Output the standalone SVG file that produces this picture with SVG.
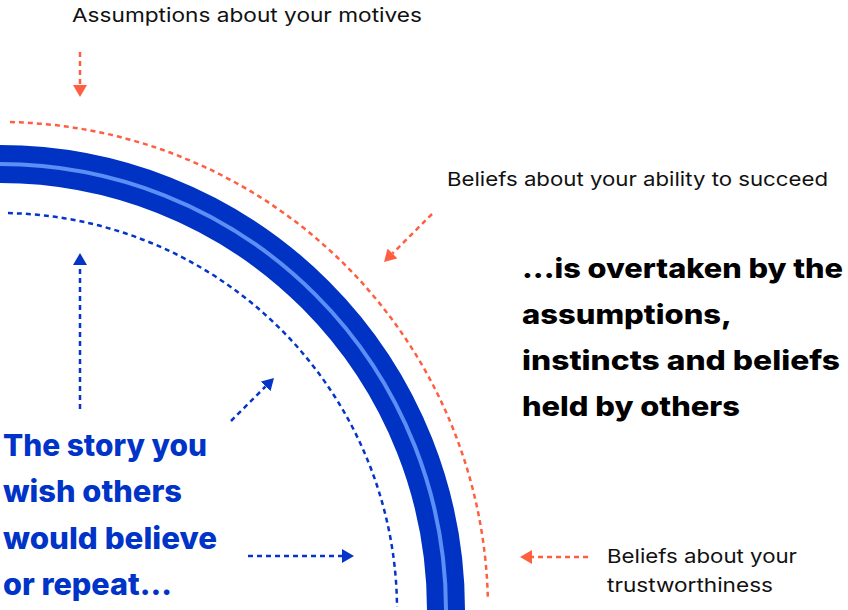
<svg xmlns="http://www.w3.org/2000/svg" width="848" height="610" viewBox="0 0 848 610">
  <style>
    .t { font-family: Inter, "Open Sans", "Liberation Sans", sans-serif; fill: #111111; }
    .sm { font-size: 19px; font-weight: 400; }
    .bk { font-size: 27px; font-weight: 800; fill: #000000; }
    .bl { font-size: 30px; font-weight: 800; fill: #0033c7; }
    .od { fill: none; stroke: #ff5f40; stroke-width: 2.5; stroke-dasharray: 5 4; }
    .bd { fill: none; stroke: #0535c8; stroke-width: 2.5; stroke-dasharray: 5 4; }
  </style>
  <defs>
    <marker id="ho" markerUnits="userSpaceOnUse" markerWidth="12" markerHeight="14" refX="0" refY="7" orient="auto" viewBox="0 0 12 14">
      <path d="M0,0 L12,7 L0,14 z" fill="#ff5f40"/>
    </marker>
    <marker id="hb" markerUnits="userSpaceOnUse" markerWidth="12" markerHeight="14" refX="0" refY="7" orient="auto" viewBox="0 0 12 14">
      <path d="M0,0 L12,7 L0,14 z" fill="#0535c8"/>
    </marker>
  </defs>

  <g id="arcs">
    <circle cx="0" cy="610" r="446" fill="none" stroke="#0033c4" stroke-width="38"/>
    <circle cx="0" cy="610" r="446" fill="none" stroke="#5b8ff5" stroke-width="4"/>
    <path class="od" d="M 10 122.1 A 488 488 0 0 1 487.8 597"/>
    <path class="bd" d="M 8 213.1 A 397 397 0 0 1 397 607"/>
  </g>

  <g id="connectors">
    <line class="od" x1="80" y1="52" x2="80" y2="85" marker-end="url(#ho)"/>
    <line class="od" x1="432" y1="214" x2="392.5" y2="253.5" marker-end="url(#ho)"/>
    <line class="bd" x1="231" y1="421" x2="265.5" y2="386.5" marker-end="url(#hb)"/>
    <line class="bd" x1="248" y1="556" x2="342" y2="556" marker-end="url(#hb)"/>
    <line class="od" x1="588" y1="557" x2="532" y2="557" marker-end="url(#ho)"/>
    <line class="bd" x1="80" y1="409" x2="80" y2="265" marker-end="url(#hb)"/>
  </g>

  <g id="label-motives">
    <text class="t sm" x="72" y="22" textLength="350" lengthAdjust="spacingAndGlyphs">Assumptions about your motives</text>
  </g>
  <g id="label-ability">
    <text class="t sm" x="447" y="186" textLength="381" lengthAdjust="spacingAndGlyphs">Beliefs about your ability to succeed</text>
  </g>
  <g id="label-trust">
    <text class="t sm" x="607" y="563" textLength="190" lengthAdjust="spacingAndGlyphs">Beliefs about your</text>
    <text class="t sm" x="607" y="592" textLength="166" lengthAdjust="spacingAndGlyphs">trustworthiness</text>
  </g>
  <g id="overtaken">
    <text class="t bk" x="522" y="278" textLength="321" lengthAdjust="spacingAndGlyphs">...is overtaken by the</text>
    <text class="t bk" x="522" y="324" textLength="210" lengthAdjust="spacingAndGlyphs">assumptions,</text>
    <text class="t bk" x="522" y="370" textLength="318" lengthAdjust="spacingAndGlyphs">instincts and beliefs</text>
    <text class="t bk" x="522" y="416" textLength="218" lengthAdjust="spacingAndGlyphs">held by others</text>
  </g>
  <g id="story">
    <text class="t bl" x="3" y="456" textLength="204" lengthAdjust="spacingAndGlyphs">The story you</text>
    <text class="t bl" x="3" y="502" textLength="179" lengthAdjust="spacingAndGlyphs">wish others</text>
    <text class="t bl" x="3" y="549" textLength="214" lengthAdjust="spacingAndGlyphs">would believe</text>
    <text class="t bl" x="3" y="595" textLength="169" lengthAdjust="spacingAndGlyphs">or repeat...</text>
  </g>
</svg>
